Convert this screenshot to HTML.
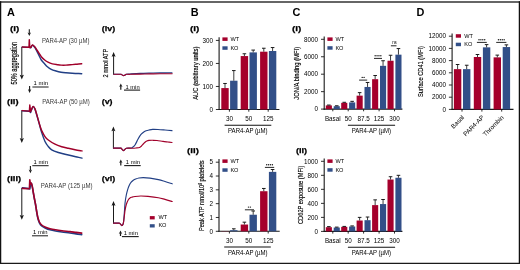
<!DOCTYPE html>
<html><head><meta charset="utf-8"><style>
html,body{margin:0;padding:0;background:#fff;width:520px;height:270px;overflow:hidden}
svg{display:block;font-family:"Liberation Sans", sans-serif;will-change:transform}
</style></head><body>
<svg width="520" height="270" viewBox="0 0 520 270">
<rect x="0" y="0" width="520" height="270" fill="#fff"/>
<line x1="0" y1="2.0" x2="520" y2="2.0" stroke="#333" stroke-width="1.4"/>
<line x1="0.6" y1="1.3" x2="0.6" y2="264" stroke="#111" stroke-width="1.3"/>
<line x1="519.4" y1="1.3" x2="519.4" y2="264" stroke="#111" stroke-width="1.3"/>
<line x1="0" y1="263.3" x2="520" y2="263.3" stroke="#1a1a1a" stroke-width="1.3"/>
<text x="6.90" y="16.20" font-size="10.9" text-anchor="start" font-weight="bold" fill="#000" >A</text>
<text x="190.70" y="16.20" font-size="10.9" text-anchor="start" font-weight="bold" fill="#000" >B</text>
<text x="292.40" y="16.20" font-size="10.9" text-anchor="start" font-weight="bold" fill="#000" >C</text>
<text x="416.40" y="16.20" font-size="10.9" text-anchor="start" font-weight="bold" fill="#000" >D</text>
<text x="9.90" y="31.20" font-size="8.0" text-anchor="start" font-weight="bold" textLength="9.3" lengthAdjust="spacingAndGlyphs" fill="#000" stroke="#000" stroke-width="0.25">(i)</text>
<text x="7.10" y="104.40" font-size="8.0" text-anchor="start" font-weight="bold" textLength="11.4" lengthAdjust="spacingAndGlyphs" fill="#000" stroke="#000" stroke-width="0.25">(ii)</text>
<text x="7.10" y="181.30" font-size="8.0" text-anchor="start" font-weight="bold" textLength="14.0" lengthAdjust="spacingAndGlyphs" fill="#000" stroke="#000" stroke-width="0.25">(iii)</text>
<text x="101.70" y="31.10" font-size="8.0" text-anchor="start" font-weight="bold" textLength="13.5" lengthAdjust="spacingAndGlyphs" fill="#000" stroke="#000" stroke-width="0.25">(iv)</text>
<text x="101.70" y="104.00" font-size="8.0" text-anchor="start" font-weight="bold" textLength="10.9" lengthAdjust="spacingAndGlyphs" fill="#000" stroke="#000" stroke-width="0.25">(v)</text>
<text x="101.70" y="181.10" font-size="8.0" text-anchor="start" font-weight="bold" textLength="13.5" lengthAdjust="spacingAndGlyphs" fill="#000" stroke="#000" stroke-width="0.25">(vi)</text>
<text x="41.90" y="42.50" font-size="6.4" text-anchor="start" textLength="47.5" lengthAdjust="spacingAndGlyphs" fill="#3a3a3a" >PAR4-AP (30 µM)</text>
<text x="42.20" y="104.20" font-size="6.4" text-anchor="start" textLength="47.6" lengthAdjust="spacingAndGlyphs" fill="#3a3a3a" >PAR4-AP (50 µM)</text>
<text x="40.80" y="188.00" font-size="6.4" text-anchor="start" textLength="51.7" lengthAdjust="spacingAndGlyphs" fill="#3a3a3a" >PAR4-AP (125 µM)</text>
<line x1="21.80" y1="47.00" x2="21.80" y2="75.60" stroke="#1a1a1a" stroke-width="1.0"/>
<path d="M19.70,74.80 L21.80,75.60 L23.90,74.80 L21.80,79.60 Z" fill="#1a1a1a"/>
<line x1="21.80" y1="110.40" x2="21.80" y2="138.90" stroke="#1a1a1a" stroke-width="1.0"/>
<path d="M19.70,138.10 L21.80,138.90 L23.90,138.10 L21.80,142.90 Z" fill="#1a1a1a"/>
<line x1="21.80" y1="188.00" x2="21.80" y2="215.80" stroke="#1a1a1a" stroke-width="1.0"/>
<path d="M19.70,215.00 L21.80,215.80 L23.90,215.00 L21.80,219.80 Z" fill="#1a1a1a"/>
<text x="16.60" y="84.50" font-size="8.6" text-anchor="start" textLength="42.6" lengthAdjust="spacingAndGlyphs" fill="#000" transform="rotate(-90 16.60 84.50)" stroke="#000" stroke-width="0.18">50% aggregation</text>
<line x1="29.30" y1="29.20" x2="29.30" y2="33.30" stroke="#1a1a1a" stroke-width="1.1"/>
<path d="M27.60,32.50 L29.30,33.30 L31.00,32.50 L29.30,36.10 Z" fill="#1a1a1a"/>
<line x1="29.60" y1="86.10" x2="29.60" y2="90.10" stroke="#1a1a1a" stroke-width="1.1"/>
<path d="M27.90,89.30 L29.60,90.10 L31.30,89.30 L29.60,92.90 Z" fill="#1a1a1a"/>
<line x1="30.40" y1="166.10" x2="30.40" y2="170.40" stroke="#1a1a1a" stroke-width="1.1"/>
<path d="M28.70,169.60 L30.40,170.40 L32.10,169.60 L30.40,173.20 Z" fill="#1a1a1a"/>
<line x1="32.40" y1="87.00" x2="48.60" y2="87.00" stroke="#1a1a1a" stroke-width="1.0"/>
<text x="40.80" y="85.30" font-size="5.8" text-anchor="middle" textLength="14.4" lengthAdjust="spacingAndGlyphs" >1 min</text>
<line x1="32.30" y1="165.70" x2="48.60" y2="165.70" stroke="#1a1a1a" stroke-width="1.0"/>
<text x="40.75" y="164.00" font-size="5.8" text-anchor="middle" textLength="14.4" lengthAdjust="spacingAndGlyphs" >1 min</text>
<line x1="32.00" y1="235.80" x2="48.00" y2="235.80" stroke="#1a1a1a" stroke-width="1.0"/>
<text x="40.30" y="234.10" font-size="5.8" text-anchor="middle" textLength="14.4" lengthAdjust="spacingAndGlyphs" >1 min</text>
<path d="M22.30,47.10 L29.00,47.40 L29.80,47.60 L30.80,47.70 C31.07,47.28 31.75,45.28 32.40,45.20 C33.05,45.12 33.95,46.22 34.70,47.20 C35.45,48.18 36.17,49.70 36.90,51.10 C37.63,52.50 38.37,54.12 39.10,55.60 C39.83,57.08 40.37,58.62 41.30,60.00 C42.23,61.38 43.68,62.78 44.70,63.90 C45.72,65.02 46.30,65.78 47.40,66.70 C48.50,67.62 49.87,68.68 51.30,69.40 C52.73,70.12 54.37,70.53 56.00,71.00 C57.63,71.47 59.43,71.90 61.10,72.20 C62.77,72.50 64.15,72.62 66.00,72.80 C67.85,72.98 70.37,73.18 72.20,73.30 C74.03,73.42 75.42,73.43 77.00,73.50 C78.58,73.57 80.92,73.67 81.70,73.70" fill="none" stroke="#213f85" stroke-width="1.45" stroke-linejoin="round" stroke-linecap="round"/>
<path d="M22.30,47.00 L28.30,47.20 L29.00,47.30 L29.30,39.80 L29.80,47.50 L30.80,47.60 C31.07,47.17 31.75,45.15 32.40,45.00 C33.05,44.85 33.95,45.87 34.70,46.70 C35.45,47.53 36.17,48.90 36.90,50.00 C37.63,51.10 38.37,52.18 39.10,53.30 C39.83,54.42 40.37,55.58 41.30,56.70 C42.23,57.82 43.58,59.08 44.70,60.00 C45.82,60.92 46.72,61.55 48.00,62.20 C49.28,62.85 50.83,63.48 52.40,63.90 C53.97,64.32 55.95,64.50 57.40,64.70 C58.85,64.90 59.67,65.03 61.10,65.10 C62.53,65.17 64.15,65.18 66.00,65.10 C67.85,65.02 70.37,64.75 72.20,64.60 C74.03,64.45 75.42,64.33 77.00,64.20 C78.58,64.07 80.92,63.87 81.70,63.80" fill="none" stroke="#a0002a" stroke-width="1.45" stroke-linejoin="round" stroke-linecap="round"/>
<path d="M22.20,110.70 L28.90,111.20 L29.80,111.50 L30.60,112.50 C30.75,112.08 31.08,110.98 31.50,110.00 C31.92,109.02 32.52,106.73 33.10,106.60 C33.68,106.47 34.40,107.83 35.00,109.20 C35.60,110.57 36.15,112.93 36.70,114.80 C37.25,116.67 37.75,118.43 38.30,120.40 C38.85,122.37 39.43,124.58 40.00,126.60 C40.57,128.62 40.87,130.02 41.70,132.50 C42.53,134.98 43.90,139.17 45.00,141.50 C46.10,143.83 47.18,145.12 48.30,146.50 C49.42,147.88 50.03,148.80 51.70,149.80 C53.37,150.80 56.08,151.77 58.30,152.50 C60.52,153.23 62.77,153.65 65.00,154.20 C67.23,154.75 69.70,155.33 71.70,155.80 C73.70,156.27 75.28,156.62 77.00,157.00 C78.72,157.38 81.17,157.92 82.00,158.10" fill="none" stroke="#213f85" stroke-width="1.45" stroke-linejoin="round" stroke-linecap="round"/>
<path d="M22.20,110.60 L28.90,111.10 L29.40,111.20 L29.80,105.00 L30.60,111.70 C30.75,111.33 31.08,110.38 31.50,109.50 C31.92,108.62 32.52,106.50 33.10,106.40 C33.68,106.30 34.40,107.57 35.00,108.90 C35.60,110.23 36.15,112.55 36.70,114.40 C37.25,116.25 37.75,118.10 38.30,120.00 C38.85,121.90 39.43,124.03 40.00,125.80 C40.57,127.57 40.87,128.80 41.70,130.60 C42.53,132.40 43.90,135.03 45.00,136.60 C46.10,138.17 46.63,138.73 48.30,140.00 C49.97,141.27 52.77,143.08 55.00,144.20 C57.23,145.32 59.48,146.02 61.70,146.70 C63.92,147.38 66.08,147.80 68.30,148.30 C70.52,148.80 72.72,149.27 75.00,149.70 C77.28,150.13 80.83,150.70 82.00,150.90" fill="none" stroke="#a0002a" stroke-width="1.45" stroke-linejoin="round" stroke-linecap="round"/>
<path d="M22.40,187.80 L28.90,188.60 L29.80,188.90 L30.60,184.80 C30.73,184.57 31.10,182.98 31.40,183.40 C31.70,183.82 32.08,185.75 32.40,187.30 C32.72,188.85 32.97,190.78 33.30,192.70 C33.63,194.62 34.02,196.75 34.40,198.80 C34.78,200.85 35.22,202.80 35.60,205.00 C35.98,207.20 36.33,209.83 36.70,212.00 C37.07,214.17 37.35,216.20 37.80,218.00 C38.25,219.80 38.75,221.47 39.40,222.80 C40.05,224.13 40.67,225.10 41.70,226.00 C42.73,226.90 44.22,227.57 45.60,228.20 C46.98,228.83 48.33,229.33 50.00,229.80 C51.67,230.27 53.60,230.63 55.60,231.00 C57.60,231.37 59.60,231.67 62.00,232.00 C64.40,232.33 67.67,232.68 70.00,233.00 C72.33,233.32 74.05,233.63 76.00,233.90 C77.95,234.17 80.75,234.48 81.70,234.60" fill="none" stroke="#213f85" stroke-width="1.6" stroke-linejoin="round" stroke-linecap="round"/>
<path d="M22.40,188.40 L28.90,188.80 L29.40,188.80 L29.80,179.90 L30.40,184.30 C30.57,184.12 31.07,182.73 31.40,183.20 C31.73,183.67 32.08,185.57 32.40,187.10 C32.72,188.63 32.97,190.50 33.30,192.40 C33.63,194.30 34.02,196.45 34.40,198.50 C34.78,200.55 35.22,202.53 35.60,204.70 C35.98,206.87 36.33,209.40 36.70,211.50 C37.07,213.60 37.35,215.55 37.80,217.30 C38.25,219.05 38.75,220.72 39.40,222.00 C40.05,223.28 40.67,224.13 41.70,225.00 C42.73,225.87 44.22,226.58 45.60,227.20 C46.98,227.82 48.33,228.27 50.00,228.70 C51.67,229.13 53.60,229.47 55.60,229.80 C57.60,230.13 59.60,230.40 62.00,230.70 C64.40,231.00 67.67,231.32 70.00,231.60 C72.33,231.88 74.05,232.15 76.00,232.40 C77.95,232.65 80.75,232.98 81.70,233.10" fill="none" stroke="#a0002a" stroke-width="1.6" stroke-linejoin="round" stroke-linecap="round"/>
<line x1="113.60" y1="74.60" x2="113.60" y2="56.00" stroke="#1a1a1a" stroke-width="1.0"/>
<path d="M111.60,56.80 L113.60,56.00 L115.60,56.80 L113.60,52.00 Z" fill="#1a1a1a"/>
<line x1="113.40" y1="148.50" x2="113.40" y2="130.40" stroke="#1a1a1a" stroke-width="1.0"/>
<path d="M111.40,131.20 L113.40,130.40 L115.40,131.20 L113.40,126.40 Z" fill="#1a1a1a"/>
<line x1="113.50" y1="223.50" x2="113.50" y2="205.00" stroke="#1a1a1a" stroke-width="1.0"/>
<path d="M111.50,205.80 L113.50,205.00 L115.50,205.80 L113.50,201.00 Z" fill="#1a1a1a"/>
<text x="108.00" y="77.60" font-size="8" text-anchor="start" textLength="28.9" lengthAdjust="spacingAndGlyphs" fill="#000" transform="rotate(-90 108.00 77.60)" stroke="#000" stroke-width="0.15">2 nmol ATP</text>
<line x1="120.80" y1="89.80" x2="120.80" y2="86.10" stroke="#1a1a1a" stroke-width="1.2"/>
<path d="M119.10,86.90 L120.80,86.10 L122.50,86.90 L120.80,83.50 Z" fill="#1a1a1a"/>
<line x1="124.00" y1="90.10" x2="140.10" y2="90.10" stroke="#1a1a1a" stroke-width="1.1"/>
<text x="132.55" y="88.50" font-size="5.8" text-anchor="middle" textLength="14.2" lengthAdjust="spacingAndGlyphs" >1 min</text>
<line x1="120.80" y1="165.60" x2="120.80" y2="162.10" stroke="#1a1a1a" stroke-width="1.2"/>
<path d="M119.10,162.90 L120.80,162.10 L122.50,162.90 L120.80,159.50 Z" fill="#1a1a1a"/>
<line x1="124.20" y1="165.60" x2="140.70" y2="165.60" stroke="#1a1a1a" stroke-width="1.1"/>
<text x="132.95" y="164.00" font-size="5.8" text-anchor="middle" textLength="14.2" lengthAdjust="spacingAndGlyphs" >1 min</text>
<line x1="120.50" y1="236.00" x2="120.50" y2="233.10" stroke="#1a1a1a" stroke-width="1.2"/>
<path d="M118.80,233.90 L120.50,233.10 L122.20,233.90 L120.50,230.50 Z" fill="#1a1a1a"/>
<line x1="121.90" y1="236.60" x2="138.70" y2="236.60" stroke="#1a1a1a" stroke-width="1.1"/>
<text x="130.80" y="235.00" font-size="5.8" text-anchor="middle" textLength="14.2" lengthAdjust="spacingAndGlyphs" >1 min</text>
<path d="M113.90,74.20 L121.00,74.20 C121.25,74.37 122.05,74.95 122.50,75.20 C122.95,75.45 123.28,75.72 123.70,75.70 C124.12,75.68 124.58,75.33 125.00,75.10 C125.42,74.87 125.37,74.48 126.20,74.30 C127.03,74.12 127.70,74.15 130.00,74.00 C132.30,73.85 136.67,73.55 140.00,73.40 C143.33,73.25 146.67,73.18 150.00,73.10 C153.33,73.02 156.33,72.95 160.00,72.90 C163.67,72.85 170.00,72.82 172.00,72.80" fill="none" stroke="#213f85" stroke-width="1.15" stroke-linejoin="round" stroke-linecap="round"/>
<path d="M113.90,74.20 L121.00,74.20 C121.25,74.37 122.05,74.95 122.50,75.20 C122.95,75.45 123.28,75.72 123.70,75.70 C124.12,75.68 124.58,75.33 125.00,75.10 C125.42,74.87 125.37,74.43 126.20,74.30 C127.03,74.17 127.70,74.33 130.00,74.30 C132.30,74.27 136.67,74.17 140.00,74.10 C143.33,74.03 146.67,73.95 150.00,73.90 C153.33,73.85 156.33,73.83 160.00,73.80 C163.67,73.77 170.00,73.72 172.00,73.70" fill="none" stroke="#a0002a" stroke-width="1.15" stroke-linejoin="round" stroke-linecap="round"/>
<path d="M113.50,148.10 L121.10,148.10 C121.30,148.35 121.93,149.18 122.30,149.60 C122.67,150.02 122.92,150.57 123.30,150.60 C123.68,150.63 124.10,150.20 124.60,149.80 C125.10,149.40 125.18,148.50 126.30,148.20 C127.42,147.90 130.15,148.23 131.30,148.00 C132.45,147.77 132.58,147.30 133.20,146.80 C133.82,146.30 134.23,146.20 135.00,145.00 C135.77,143.80 137.03,141.03 137.80,139.60 C138.57,138.17 138.98,137.35 139.60,136.40 C140.22,135.45 140.80,134.63 141.50,133.90 C142.20,133.17 143.03,132.52 143.80,132.00 C144.57,131.48 145.23,131.13 146.10,130.80 C146.97,130.47 147.92,130.23 149.00,130.00 C150.08,129.77 151.10,129.48 152.60,129.40 C154.10,129.32 155.93,129.40 158.00,129.50 C160.07,129.60 162.67,129.82 165.00,130.00 C167.33,130.18 170.83,130.50 172.00,130.60" fill="none" stroke="#213f85" stroke-width="1.15" stroke-linejoin="round" stroke-linecap="round"/>
<path d="M113.50,148.10 L121.10,148.10 C121.30,148.35 121.93,149.18 122.30,149.60 C122.67,150.02 122.92,150.57 123.30,150.60 C123.68,150.63 124.10,150.20 124.60,149.80 C125.10,149.40 125.07,148.47 126.30,148.20 C127.53,147.93 130.38,148.23 132.00,148.20 C133.62,148.17 134.73,148.12 136.00,148.00 C137.27,147.88 138.68,147.83 139.60,147.50 C140.52,147.17 140.88,146.58 141.50,146.00 C142.12,145.42 142.72,144.63 143.30,144.00 C143.88,143.37 144.42,142.70 145.00,142.20 C145.58,141.70 146.13,141.30 146.80,141.00 C147.47,140.70 147.97,140.52 149.00,140.40 C150.03,140.28 151.67,140.28 153.00,140.30 C154.33,140.32 155.33,140.32 157.00,140.50 C158.67,140.68 161.17,141.15 163.00,141.40 C164.83,141.65 166.50,141.82 168.00,142.00 C169.50,142.18 171.33,142.42 172.00,142.50" fill="none" stroke="#a0002a" stroke-width="1.15" stroke-linejoin="round" stroke-linecap="round"/>
<path d="M113.60,223.10 L119.30,223.10 C119.55,223.33 120.37,224.08 120.80,224.50 C121.23,224.92 121.55,225.60 121.90,225.60 C122.25,225.60 122.62,225.18 122.90,224.50 C123.18,223.82 123.35,223.58 123.60,221.50 C123.85,219.42 124.15,215.17 124.40,212.00 C124.65,208.83 124.78,205.33 125.10,202.50 C125.42,199.67 125.88,197.12 126.30,195.00 C126.72,192.88 127.10,191.42 127.60,189.80 C128.10,188.18 128.70,186.57 129.30,185.30 C129.90,184.03 130.53,183.03 131.20,182.20 C131.87,181.37 132.55,180.83 133.30,180.30 C134.05,179.77 134.75,179.38 135.70,179.00 C136.65,178.62 137.73,178.23 139.00,178.00 C140.27,177.77 141.47,177.58 143.30,177.60 C145.13,177.62 147.48,177.77 150.00,178.10 C152.52,178.43 155.90,179.03 158.40,179.60 C160.90,180.17 162.70,180.80 165.00,181.50 C167.30,182.20 171.00,183.42 172.20,183.80" fill="none" stroke="#213f85" stroke-width="1.15" stroke-linejoin="round" stroke-linecap="round"/>
<path d="M113.60,223.10 L119.30,223.10 C119.55,223.33 120.37,224.08 120.80,224.50 C121.23,224.92 121.55,225.60 121.90,225.60 C122.25,225.60 122.62,225.13 122.90,224.50 C123.18,223.87 123.35,223.30 123.60,221.80 C123.85,220.30 124.15,217.47 124.40,215.50 C124.65,213.53 124.78,211.83 125.10,210.00 C125.42,208.17 125.78,206.17 126.30,204.50 C126.82,202.83 127.58,201.08 128.20,200.00 C128.82,198.92 129.38,198.47 130.00,198.00 C130.62,197.53 131.07,197.45 131.90,197.20 C132.73,196.95 133.53,196.70 135.00,196.50 C136.47,196.30 138.53,196.02 140.70,196.00 C142.87,195.98 145.05,196.12 148.00,196.40 C150.95,196.68 155.57,197.20 158.40,197.70 C161.23,198.20 162.70,198.77 165.00,199.40 C167.30,200.03 171.00,201.15 172.20,201.50" fill="none" stroke="#a0002a" stroke-width="1.15" stroke-linejoin="round" stroke-linecap="round"/>
<rect x="149.80" y="216.10" width="4.90" height="3.30" fill="#a5002c"/>
<rect x="149.80" y="224.20" width="4.90" height="3.30" fill="#324f88"/>
<text x="158.40" y="219.35" font-size="5.6" text-anchor="start" >WT</text>
<text x="158.40" y="227.45" font-size="5.6" text-anchor="start" >KO</text>
<text x="190.00" y="31.10" font-size="8.0" text-anchor="start" font-weight="bold" textLength="9.4" lengthAdjust="spacingAndGlyphs" fill="#000" stroke="#000" stroke-width="0.25">(i)</text>
<line x1="219.10" y1="110.05" x2="219.10" y2="37.30" stroke="#1a1a1a" stroke-width="1.1"/>
<line x1="218.55" y1="109.50" x2="279.40" y2="109.50" stroke="#1a1a1a" stroke-width="1.1"/>
<line x1="215.90" y1="109.50" x2="219.10" y2="109.50" stroke="#1a1a1a" stroke-width="0.9"/>
<text x="213.00" y="111.75" font-size="6.3" text-anchor="end" >0</text>
<line x1="215.90" y1="86.47" x2="219.10" y2="86.47" stroke="#1a1a1a" stroke-width="0.9"/>
<text x="213.00" y="88.72" font-size="6.3" text-anchor="end" >100</text>
<line x1="215.90" y1="63.44" x2="219.10" y2="63.44" stroke="#1a1a1a" stroke-width="0.9"/>
<text x="213.00" y="65.69" font-size="6.3" text-anchor="end" >200</text>
<line x1="215.90" y1="40.41" x2="219.10" y2="40.41" stroke="#1a1a1a" stroke-width="0.9"/>
<text x="213.00" y="42.66" font-size="6.3" text-anchor="end" >300</text>
<line x1="229.40" y1="109.50" x2="229.40" y2="111.70" stroke="#1a1a1a" stroke-width="0.9"/>
<rect x="221.30" y="88.08" width="7.40" height="21.42" fill="#a5002c"/>
<line x1="225.00" y1="88.08" x2="225.00" y2="83.48" stroke="#1a1a1a" stroke-width="0.85"/>
<line x1="223.20" y1="83.48" x2="226.80" y2="83.48" stroke="#1a1a1a" stroke-width="1.0"/>
<rect x="230.10" y="80.71" width="7.40" height="28.79" fill="#324f88"/>
<line x1="233.80" y1="80.71" x2="233.80" y2="70.58" stroke="#1a1a1a" stroke-width="0.85"/>
<line x1="232.00" y1="70.58" x2="235.60" y2="70.58" stroke="#1a1a1a" stroke-width="1.0"/>
<line x1="248.80" y1="109.50" x2="248.80" y2="111.70" stroke="#1a1a1a" stroke-width="0.9"/>
<rect x="240.70" y="56.07" width="7.40" height="53.43" fill="#a5002c"/>
<line x1="244.40" y1="56.07" x2="244.40" y2="53.77" stroke="#1a1a1a" stroke-width="0.85"/>
<line x1="242.60" y1="53.77" x2="246.20" y2="53.77" stroke="#1a1a1a" stroke-width="1.0"/>
<rect x="249.50" y="52.39" width="7.40" height="57.11" fill="#324f88"/>
<line x1="253.20" y1="52.39" x2="253.20" y2="50.08" stroke="#1a1a1a" stroke-width="0.85"/>
<line x1="251.40" y1="50.08" x2="255.00" y2="50.08" stroke="#1a1a1a" stroke-width="1.0"/>
<line x1="268.20" y1="109.50" x2="268.20" y2="111.70" stroke="#1a1a1a" stroke-width="0.9"/>
<rect x="260.10" y="51.69" width="7.40" height="57.81" fill="#a5002c"/>
<line x1="263.80" y1="51.69" x2="263.80" y2="48.24" stroke="#1a1a1a" stroke-width="0.85"/>
<line x1="262.00" y1="48.24" x2="265.60" y2="48.24" stroke="#1a1a1a" stroke-width="1.0"/>
<rect x="268.90" y="51.00" width="7.40" height="58.50" fill="#324f88"/>
<line x1="272.60" y1="51.00" x2="272.60" y2="47.55" stroke="#1a1a1a" stroke-width="0.85"/>
<line x1="270.80" y1="47.55" x2="274.40" y2="47.55" stroke="#1a1a1a" stroke-width="1.0"/>
<text x="229.40" y="120.80" font-size="6.3" text-anchor="middle" >30</text>
<text x="248.80" y="120.80" font-size="6.3" text-anchor="middle" >50</text>
<text x="268.20" y="120.80" font-size="6.3" text-anchor="middle" >125</text>
<line x1="224.60" y1="125.20" x2="271.30" y2="125.20" stroke="#111" stroke-width="1.05"/>
<text x="247.80" y="133.40" font-size="6.5" text-anchor="middle" textLength="39.6" lengthAdjust="spacingAndGlyphs" >PAR4-AP (µM)</text>
<rect x="222.40" y="37.40" width="5.20" height="3.50" fill="#a5002c"/>
<rect x="222.40" y="46.30" width="5.20" height="3.50" fill="#324f88"/>
<text x="230.40" y="40.85" font-size="5.6" text-anchor="start" >WT</text>
<text x="230.40" y="49.75" font-size="5.6" text-anchor="start" >KO</text>
<text x="197.70" y="99.80" font-size="8" text-anchor="start" textLength="53.3" lengthAdjust="spacingAndGlyphs" fill="#000" transform="rotate(-90 197.70 99.80)" stroke="#000" stroke-width="0.15">AUC (arbitrary units)</text>
<text x="187.10" y="153.10" font-size="8.0" text-anchor="start" font-weight="bold" textLength="11.8" lengthAdjust="spacingAndGlyphs" fill="#000" stroke="#000" stroke-width="0.25">(ii)</text>
<line x1="219.00" y1="231.85" x2="219.00" y2="159.10" stroke="#1a1a1a" stroke-width="1.1"/>
<line x1="218.45" y1="231.30" x2="279.70" y2="231.30" stroke="#1a1a1a" stroke-width="1.1"/>
<line x1="215.80" y1="231.30" x2="219.00" y2="231.30" stroke="#1a1a1a" stroke-width="0.9"/>
<text x="212.90" y="233.55" font-size="6.3" text-anchor="end" >0</text>
<line x1="215.80" y1="217.48" x2="219.00" y2="217.48" stroke="#1a1a1a" stroke-width="0.9"/>
<text x="212.90" y="219.73" font-size="6.3" text-anchor="end" >1</text>
<line x1="215.80" y1="203.66" x2="219.00" y2="203.66" stroke="#1a1a1a" stroke-width="0.9"/>
<text x="212.90" y="205.91" font-size="6.3" text-anchor="end" >2</text>
<line x1="215.80" y1="189.84" x2="219.00" y2="189.84" stroke="#1a1a1a" stroke-width="0.9"/>
<text x="212.90" y="192.09" font-size="6.3" text-anchor="end" >3</text>
<line x1="215.80" y1="176.02" x2="219.00" y2="176.02" stroke="#1a1a1a" stroke-width="0.9"/>
<text x="212.90" y="178.27" font-size="6.3" text-anchor="end" >4</text>
<line x1="215.80" y1="162.20" x2="219.00" y2="162.20" stroke="#1a1a1a" stroke-width="0.9"/>
<text x="212.90" y="164.45" font-size="6.3" text-anchor="end" >5</text>
<line x1="229.40" y1="231.30" x2="229.40" y2="233.50" stroke="#1a1a1a" stroke-width="0.9"/>
<rect x="221.30" y="231.09" width="7.40" height="0.21" fill="#a5002c"/>
<rect x="230.10" y="230.19" width="7.40" height="1.11" fill="#324f88"/>
<line x1="233.80" y1="230.19" x2="233.80" y2="228.81" stroke="#1a1a1a" stroke-width="0.85"/>
<line x1="232.00" y1="228.81" x2="235.60" y2="228.81" stroke="#1a1a1a" stroke-width="1.0"/>
<line x1="248.80" y1="231.30" x2="248.80" y2="233.50" stroke="#1a1a1a" stroke-width="0.9"/>
<rect x="240.70" y="224.53" width="7.40" height="6.77" fill="#a5002c"/>
<line x1="244.40" y1="224.53" x2="244.40" y2="222.18" stroke="#1a1a1a" stroke-width="0.85"/>
<line x1="242.60" y1="222.18" x2="246.20" y2="222.18" stroke="#1a1a1a" stroke-width="1.0"/>
<rect x="249.50" y="214.72" width="7.40" height="16.58" fill="#324f88"/>
<line x1="253.20" y1="214.72" x2="253.20" y2="210.98" stroke="#1a1a1a" stroke-width="0.85"/>
<line x1="251.40" y1="210.98" x2="255.00" y2="210.98" stroke="#1a1a1a" stroke-width="1.0"/>
<line x1="268.20" y1="231.30" x2="268.20" y2="233.50" stroke="#1a1a1a" stroke-width="0.9"/>
<rect x="260.10" y="191.22" width="7.40" height="40.08" fill="#a5002c"/>
<line x1="263.80" y1="191.22" x2="263.80" y2="188.46" stroke="#1a1a1a" stroke-width="0.85"/>
<line x1="262.00" y1="188.46" x2="265.60" y2="188.46" stroke="#1a1a1a" stroke-width="1.0"/>
<rect x="268.90" y="171.87" width="7.40" height="59.43" fill="#324f88"/>
<line x1="272.60" y1="171.87" x2="272.60" y2="169.52" stroke="#1a1a1a" stroke-width="0.85"/>
<line x1="270.80" y1="169.52" x2="274.40" y2="169.52" stroke="#1a1a1a" stroke-width="1.0"/>
<text x="229.40" y="242.80" font-size="6.3" text-anchor="middle" >30</text>
<text x="248.80" y="242.80" font-size="6.3" text-anchor="middle" >50</text>
<text x="268.20" y="242.80" font-size="6.3" text-anchor="middle" >125</text>
<line x1="224.20" y1="247.00" x2="270.80" y2="247.00" stroke="#111" stroke-width="1.05"/>
<text x="247.80" y="255.30" font-size="6.5" text-anchor="middle" textLength="39.6" lengthAdjust="spacingAndGlyphs" >PAR4-AP (µM)</text>
<line x1="244.90" y1="209.80" x2="254.00" y2="209.80" stroke="#1a1a1a" stroke-width="0.95"/>
<circle cx="248.50" cy="207.10" r="0.72" fill="#1a1a1a"/>
<circle cx="250.40" cy="207.10" r="0.72" fill="#1a1a1a"/>
<line x1="264.90" y1="167.40" x2="274.20" y2="167.40" stroke="#1a1a1a" stroke-width="0.95"/>
<circle cx="266.70" cy="164.70" r="0.72" fill="#1a1a1a"/>
<circle cx="268.60" cy="164.70" r="0.72" fill="#1a1a1a"/>
<circle cx="270.50" cy="164.70" r="0.72" fill="#1a1a1a"/>
<circle cx="272.40" cy="164.70" r="0.72" fill="#1a1a1a"/>
<rect x="222.40" y="159.40" width="5.20" height="3.50" fill="#a5002c"/>
<rect x="222.40" y="168.30" width="5.20" height="3.50" fill="#324f88"/>
<text x="230.40" y="162.85" font-size="5.6" text-anchor="start" >WT</text>
<text x="230.40" y="171.75" font-size="5.6" text-anchor="start" >KO</text>
<text x="204.0" y="231.1" font-size="8" transform="rotate(-90 204.0 231.1)" textLength="70.8" lengthAdjust="spacingAndGlyphs" fill="#000" stroke="#000" stroke-width="0.15">Peak ATP nmol/10<tspan dy="-2.2" font-size="4.5">8</tspan><tspan dy="2.2"> platelets</tspan></text>
<text x="292.00" y="31.10" font-size="8.0" text-anchor="start" font-weight="bold" textLength="9.4" lengthAdjust="spacingAndGlyphs" fill="#000" stroke="#000" stroke-width="0.25">(i)</text>
<line x1="324.20" y1="109.65" x2="324.20" y2="36.40" stroke="#1a1a1a" stroke-width="1.1"/>
<line x1="323.65" y1="109.10" x2="402.40" y2="109.10" stroke="#1a1a1a" stroke-width="1.1"/>
<line x1="321.00" y1="109.10" x2="324.20" y2="109.10" stroke="#1a1a1a" stroke-width="0.9"/>
<text x="318.10" y="111.35" font-size="6.3" text-anchor="end" >0</text>
<line x1="321.00" y1="91.65" x2="324.20" y2="91.65" stroke="#1a1a1a" stroke-width="0.9"/>
<text x="318.10" y="93.90" font-size="6.3" text-anchor="end" >2000</text>
<line x1="321.00" y1="74.20" x2="324.20" y2="74.20" stroke="#1a1a1a" stroke-width="0.9"/>
<text x="318.10" y="76.45" font-size="6.3" text-anchor="end" >4000</text>
<line x1="321.00" y1="56.75" x2="324.20" y2="56.75" stroke="#1a1a1a" stroke-width="0.9"/>
<text x="318.10" y="59.00" font-size="6.3" text-anchor="end" >6000</text>
<line x1="321.00" y1="39.30" x2="324.20" y2="39.30" stroke="#1a1a1a" stroke-width="0.9"/>
<text x="318.10" y="41.55" font-size="6.3" text-anchor="end" >8000</text>
<line x1="332.80" y1="109.10" x2="332.80" y2="111.30" stroke="#1a1a1a" stroke-width="0.9"/>
<rect x="325.80" y="105.41" width="6.10" height="3.69" fill="#a5002c"/>
<line x1="328.85" y1="105.41" x2="328.85" y2="105.06" stroke="#1a1a1a" stroke-width="0.85"/>
<line x1="327.05" y1="105.06" x2="330.65" y2="105.06" stroke="#1a1a1a" stroke-width="1.0"/>
<rect x="333.70" y="106.21" width="6.10" height="2.89" fill="#324f88"/>
<line x1="336.75" y1="106.21" x2="336.75" y2="105.78" stroke="#1a1a1a" stroke-width="0.85"/>
<line x1="334.95" y1="105.78" x2="338.55" y2="105.78" stroke="#1a1a1a" stroke-width="1.0"/>
<line x1="348.20" y1="109.10" x2="348.20" y2="111.30" stroke="#1a1a1a" stroke-width="0.9"/>
<rect x="341.20" y="102.82" width="6.10" height="6.28" fill="#a5002c"/>
<line x1="344.25" y1="102.82" x2="344.25" y2="102.29" stroke="#1a1a1a" stroke-width="0.85"/>
<line x1="342.45" y1="102.29" x2="346.05" y2="102.29" stroke="#1a1a1a" stroke-width="1.0"/>
<rect x="349.10" y="102.42" width="6.10" height="6.68" fill="#324f88"/>
<line x1="352.15" y1="102.42" x2="352.15" y2="101.33" stroke="#1a1a1a" stroke-width="0.85"/>
<line x1="350.35" y1="101.33" x2="353.95" y2="101.33" stroke="#1a1a1a" stroke-width="1.0"/>
<line x1="363.60" y1="109.10" x2="363.60" y2="111.30" stroke="#1a1a1a" stroke-width="0.9"/>
<rect x="356.60" y="95.64" width="6.10" height="13.46" fill="#a5002c"/>
<line x1="359.65" y1="95.64" x2="359.65" y2="92.64" stroke="#1a1a1a" stroke-width="0.85"/>
<line x1="357.85" y1="92.64" x2="361.45" y2="92.64" stroke="#1a1a1a" stroke-width="1.0"/>
<rect x="364.50" y="86.96" width="6.10" height="22.14" fill="#324f88"/>
<line x1="367.55" y1="86.96" x2="367.55" y2="82.48" stroke="#1a1a1a" stroke-width="0.85"/>
<line x1="365.75" y1="82.48" x2="369.35" y2="82.48" stroke="#1a1a1a" stroke-width="1.0"/>
<line x1="379.10" y1="109.10" x2="379.10" y2="111.30" stroke="#1a1a1a" stroke-width="0.9"/>
<rect x="372.10" y="79.18" width="6.10" height="29.92" fill="#a5002c"/>
<line x1="375.15" y1="79.18" x2="375.15" y2="75.50" stroke="#1a1a1a" stroke-width="0.85"/>
<line x1="373.35" y1="75.50" x2="376.95" y2="75.50" stroke="#1a1a1a" stroke-width="1.0"/>
<rect x="380.00" y="65.82" width="6.10" height="43.28" fill="#324f88"/>
<line x1="383.05" y1="65.82" x2="383.05" y2="60.74" stroke="#1a1a1a" stroke-width="0.85"/>
<line x1="381.25" y1="60.74" x2="384.85" y2="60.74" stroke="#1a1a1a" stroke-width="1.0"/>
<line x1="394.50" y1="109.10" x2="394.50" y2="111.30" stroke="#1a1a1a" stroke-width="0.9"/>
<rect x="387.50" y="60.74" width="6.10" height="48.36" fill="#a5002c"/>
<line x1="390.55" y1="60.74" x2="390.55" y2="55.26" stroke="#1a1a1a" stroke-width="0.85"/>
<line x1="388.75" y1="55.26" x2="392.35" y2="55.26" stroke="#1a1a1a" stroke-width="1.0"/>
<rect x="395.40" y="54.66" width="6.10" height="54.44" fill="#324f88"/>
<line x1="398.45" y1="54.66" x2="398.45" y2="48.57" stroke="#1a1a1a" stroke-width="0.85"/>
<line x1="396.65" y1="48.57" x2="400.25" y2="48.57" stroke="#1a1a1a" stroke-width="1.0"/>
<text x="332.80" y="120.80" font-size="6.3" text-anchor="middle" >Basal</text>
<text x="348.20" y="120.80" font-size="6.3" text-anchor="middle" >50</text>
<text x="363.60" y="120.80" font-size="6.3" text-anchor="middle" >87.5</text>
<text x="379.10" y="120.80" font-size="6.3" text-anchor="middle" >125</text>
<text x="394.50" y="120.80" font-size="6.3" text-anchor="middle" >300</text>
<line x1="347.90" y1="125.20" x2="395.10" y2="125.20" stroke="#111" stroke-width="1.05"/>
<text x="371.30" y="133.40" font-size="6.5" text-anchor="middle" textLength="39.3" lengthAdjust="spacingAndGlyphs" >PAR4-AP (µM)</text>
<line x1="359.10" y1="80.10" x2="367.20" y2="80.10" stroke="#1a1a1a" stroke-width="0.95"/>
<circle cx="362.20" cy="77.40" r="0.72" fill="#1a1a1a"/>
<circle cx="364.10" cy="77.40" r="0.72" fill="#1a1a1a"/>
<line x1="374.00" y1="58.40" x2="382.00" y2="58.40" stroke="#1a1a1a" stroke-width="0.95"/>
<circle cx="375.15" cy="55.70" r="0.72" fill="#1a1a1a"/>
<circle cx="377.05" cy="55.70" r="0.72" fill="#1a1a1a"/>
<circle cx="378.95" cy="55.70" r="0.72" fill="#1a1a1a"/>
<circle cx="380.85" cy="55.70" r="0.72" fill="#1a1a1a"/>
<line x1="390.90" y1="45.80" x2="396.50" y2="45.80" stroke="#1a1a1a" stroke-width="0.95"/>
<text x="394.50" y="44.40" font-size="5.6" text-anchor="middle" textLength="4.6" lengthAdjust="spacingAndGlyphs" >ns</text>
<rect x="327.40" y="37.40" width="5.20" height="3.50" fill="#a5002c"/>
<rect x="327.40" y="46.20" width="5.20" height="3.50" fill="#324f88"/>
<text x="335.40" y="40.85" font-size="5.6" text-anchor="start" >WT</text>
<text x="335.40" y="49.65" font-size="5.6" text-anchor="start" >KO</text>
<text x="298.90" y="99.70" font-size="8" text-anchor="start" textLength="52.8" lengthAdjust="spacingAndGlyphs" fill="#000" transform="rotate(-90 298.90 99.70)" stroke="#000" stroke-width="0.15">JON/A binding (MFI)</text>
<text x="295.90" y="153.00" font-size="8.0" text-anchor="start" font-weight="bold" textLength="11.3" lengthAdjust="spacingAndGlyphs" fill="#000" stroke="#000" stroke-width="0.25">(ii)</text>
<line x1="324.20" y1="231.95" x2="324.20" y2="158.40" stroke="#1a1a1a" stroke-width="1.1"/>
<line x1="323.65" y1="231.40" x2="402.40" y2="231.40" stroke="#1a1a1a" stroke-width="1.1"/>
<line x1="321.00" y1="231.40" x2="324.20" y2="231.40" stroke="#1a1a1a" stroke-width="0.9"/>
<text x="318.10" y="233.65" font-size="6.3" text-anchor="end" >0</text>
<line x1="321.00" y1="217.38" x2="324.20" y2="217.38" stroke="#1a1a1a" stroke-width="0.9"/>
<text x="318.10" y="219.63" font-size="6.3" text-anchor="end" >200</text>
<line x1="321.00" y1="203.36" x2="324.20" y2="203.36" stroke="#1a1a1a" stroke-width="0.9"/>
<text x="318.10" y="205.61" font-size="6.3" text-anchor="end" >400</text>
<line x1="321.00" y1="189.34" x2="324.20" y2="189.34" stroke="#1a1a1a" stroke-width="0.9"/>
<text x="318.10" y="191.59" font-size="6.3" text-anchor="end" >600</text>
<line x1="321.00" y1="175.32" x2="324.20" y2="175.32" stroke="#1a1a1a" stroke-width="0.9"/>
<text x="318.10" y="177.57" font-size="6.3" text-anchor="end" >800</text>
<line x1="321.00" y1="161.30" x2="324.20" y2="161.30" stroke="#1a1a1a" stroke-width="0.9"/>
<text x="318.10" y="163.55" font-size="6.3" text-anchor="end" >1000</text>
<line x1="332.80" y1="231.40" x2="332.80" y2="233.60" stroke="#1a1a1a" stroke-width="0.9"/>
<rect x="325.80" y="227.19" width="6.10" height="4.21" fill="#a5002c"/>
<line x1="328.85" y1="227.19" x2="328.85" y2="226.63" stroke="#1a1a1a" stroke-width="0.85"/>
<line x1="327.05" y1="226.63" x2="330.65" y2="226.63" stroke="#1a1a1a" stroke-width="1.0"/>
<rect x="333.70" y="227.54" width="6.10" height="3.86" fill="#324f88"/>
<line x1="336.75" y1="227.54" x2="336.75" y2="227.12" stroke="#1a1a1a" stroke-width="0.85"/>
<line x1="334.95" y1="227.12" x2="338.55" y2="227.12" stroke="#1a1a1a" stroke-width="1.0"/>
<line x1="348.20" y1="231.40" x2="348.20" y2="233.60" stroke="#1a1a1a" stroke-width="0.9"/>
<rect x="341.20" y="226.84" width="6.10" height="4.56" fill="#a5002c"/>
<line x1="344.25" y1="226.84" x2="344.25" y2="226.42" stroke="#1a1a1a" stroke-width="0.85"/>
<line x1="342.45" y1="226.42" x2="346.05" y2="226.42" stroke="#1a1a1a" stroke-width="1.0"/>
<rect x="349.10" y="226.49" width="6.10" height="4.91" fill="#324f88"/>
<line x1="352.15" y1="226.49" x2="352.15" y2="225.93" stroke="#1a1a1a" stroke-width="0.85"/>
<line x1="350.35" y1="225.93" x2="353.95" y2="225.93" stroke="#1a1a1a" stroke-width="1.0"/>
<line x1="363.60" y1="231.40" x2="363.60" y2="233.60" stroke="#1a1a1a" stroke-width="0.9"/>
<rect x="356.60" y="220.53" width="6.10" height="10.87" fill="#a5002c"/>
<line x1="359.65" y1="220.53" x2="359.65" y2="217.38" stroke="#1a1a1a" stroke-width="0.85"/>
<line x1="357.85" y1="217.38" x2="361.45" y2="217.38" stroke="#1a1a1a" stroke-width="1.0"/>
<rect x="364.50" y="220.18" width="6.10" height="11.22" fill="#324f88"/>
<line x1="367.55" y1="220.18" x2="367.55" y2="217.03" stroke="#1a1a1a" stroke-width="0.85"/>
<line x1="365.75" y1="217.03" x2="369.35" y2="217.03" stroke="#1a1a1a" stroke-width="1.0"/>
<line x1="379.10" y1="231.40" x2="379.10" y2="233.60" stroke="#1a1a1a" stroke-width="0.9"/>
<rect x="372.10" y="205.11" width="6.10" height="26.29" fill="#a5002c"/>
<line x1="375.15" y1="205.11" x2="375.15" y2="199.86" stroke="#1a1a1a" stroke-width="0.85"/>
<line x1="373.35" y1="199.86" x2="376.95" y2="199.86" stroke="#1a1a1a" stroke-width="1.0"/>
<rect x="380.00" y="204.06" width="6.10" height="27.34" fill="#324f88"/>
<line x1="383.05" y1="204.06" x2="383.05" y2="199.50" stroke="#1a1a1a" stroke-width="0.85"/>
<line x1="381.25" y1="199.50" x2="384.85" y2="199.50" stroke="#1a1a1a" stroke-width="1.0"/>
<line x1="394.50" y1="231.40" x2="394.50" y2="233.60" stroke="#1a1a1a" stroke-width="0.9"/>
<rect x="387.50" y="179.53" width="6.10" height="51.87" fill="#a5002c"/>
<line x1="390.55" y1="179.53" x2="390.55" y2="176.72" stroke="#1a1a1a" stroke-width="0.85"/>
<line x1="388.75" y1="176.72" x2="392.35" y2="176.72" stroke="#1a1a1a" stroke-width="1.0"/>
<rect x="395.40" y="177.77" width="6.10" height="53.63" fill="#324f88"/>
<line x1="398.45" y1="177.77" x2="398.45" y2="175.32" stroke="#1a1a1a" stroke-width="0.85"/>
<line x1="396.65" y1="175.32" x2="400.25" y2="175.32" stroke="#1a1a1a" stroke-width="1.0"/>
<text x="332.80" y="243.00" font-size="6.3" text-anchor="middle" >Basal</text>
<text x="348.20" y="243.00" font-size="6.3" text-anchor="middle" >50</text>
<text x="363.60" y="243.00" font-size="6.3" text-anchor="middle" >87.5</text>
<text x="379.10" y="243.00" font-size="6.3" text-anchor="middle" >125</text>
<text x="394.50" y="243.00" font-size="6.3" text-anchor="middle" >300</text>
<line x1="347.90" y1="247.30" x2="395.10" y2="247.30" stroke="#111" stroke-width="1.05"/>
<text x="371.30" y="255.30" font-size="6.5" text-anchor="middle" textLength="39.3" lengthAdjust="spacingAndGlyphs" >PAR4-AP (µM)</text>
<rect x="327.40" y="159.40" width="5.20" height="3.50" fill="#a5002c"/>
<rect x="327.40" y="168.20" width="5.20" height="3.50" fill="#324f88"/>
<text x="335.40" y="162.85" font-size="5.6" text-anchor="start" >WT</text>
<text x="335.40" y="171.65" font-size="5.6" text-anchor="start" >KO</text>
<text x="302.60" y="224.00" font-size="8" text-anchor="start" textLength="58.4" lengthAdjust="spacingAndGlyphs" fill="#000" transform="rotate(-90 302.60 224.00)" stroke="#000" stroke-width="0.15">CD62P exposure (MFI)</text>
<line x1="452.10" y1="109.95" x2="452.10" y2="33.60" stroke="#1a1a1a" stroke-width="1.1"/>
<line x1="451.55" y1="109.40" x2="513.50" y2="109.40" stroke="#1a1a1a" stroke-width="1.1"/>
<line x1="448.90" y1="109.40" x2="452.10" y2="109.40" stroke="#1a1a1a" stroke-width="0.9"/>
<text x="446.00" y="111.65" font-size="6.3" text-anchor="end" >0</text>
<line x1="448.90" y1="97.20" x2="452.10" y2="97.20" stroke="#1a1a1a" stroke-width="0.9"/>
<text x="446.00" y="99.45" font-size="6.3" text-anchor="end" >2000</text>
<line x1="448.90" y1="85.00" x2="452.10" y2="85.00" stroke="#1a1a1a" stroke-width="0.9"/>
<text x="446.00" y="87.25" font-size="6.3" text-anchor="end" >4000</text>
<line x1="448.90" y1="72.80" x2="452.10" y2="72.80" stroke="#1a1a1a" stroke-width="0.9"/>
<text x="446.00" y="75.05" font-size="6.3" text-anchor="end" >6000</text>
<line x1="448.90" y1="60.60" x2="452.10" y2="60.60" stroke="#1a1a1a" stroke-width="0.9"/>
<text x="446.00" y="62.85" font-size="6.3" text-anchor="end" >8000</text>
<line x1="448.90" y1="48.40" x2="452.10" y2="48.40" stroke="#1a1a1a" stroke-width="0.9"/>
<text x="446.00" y="50.65" font-size="6.3" text-anchor="end" >10000</text>
<line x1="448.90" y1="36.20" x2="452.10" y2="36.20" stroke="#1a1a1a" stroke-width="0.9"/>
<text x="446.00" y="38.45" font-size="6.3" text-anchor="end" >12000</text>
<line x1="462.00" y1="109.40" x2="462.00" y2="111.60" stroke="#1a1a1a" stroke-width="0.9"/>
<rect x="453.90" y="69.14" width="7.40" height="40.26" fill="#a5002c"/>
<line x1="457.60" y1="69.14" x2="457.60" y2="64.50" stroke="#1a1a1a" stroke-width="0.85"/>
<line x1="455.80" y1="64.50" x2="459.40" y2="64.50" stroke="#1a1a1a" stroke-width="1.0"/>
<rect x="463.00" y="69.14" width="7.40" height="40.26" fill="#324f88"/>
<line x1="466.70" y1="69.14" x2="466.70" y2="65.24" stroke="#1a1a1a" stroke-width="0.85"/>
<line x1="464.90" y1="65.24" x2="468.50" y2="65.24" stroke="#1a1a1a" stroke-width="1.0"/>
<line x1="481.90" y1="109.40" x2="481.90" y2="111.60" stroke="#1a1a1a" stroke-width="0.9"/>
<rect x="473.80" y="57.00" width="7.40" height="52.40" fill="#a5002c"/>
<line x1="477.50" y1="57.00" x2="477.50" y2="54.50" stroke="#1a1a1a" stroke-width="0.85"/>
<line x1="475.70" y1="54.50" x2="479.30" y2="54.50" stroke="#1a1a1a" stroke-width="1.0"/>
<rect x="482.90" y="47.36" width="7.40" height="62.04" fill="#324f88"/>
<line x1="486.60" y1="47.36" x2="486.60" y2="44.62" stroke="#1a1a1a" stroke-width="0.85"/>
<line x1="484.80" y1="44.62" x2="488.40" y2="44.62" stroke="#1a1a1a" stroke-width="1.0"/>
<line x1="501.70" y1="109.40" x2="501.70" y2="111.60" stroke="#1a1a1a" stroke-width="0.9"/>
<rect x="493.60" y="57.37" width="7.40" height="52.03" fill="#a5002c"/>
<line x1="497.30" y1="57.37" x2="497.30" y2="55.11" stroke="#1a1a1a" stroke-width="0.85"/>
<line x1="495.50" y1="55.11" x2="499.10" y2="55.11" stroke="#1a1a1a" stroke-width="1.0"/>
<rect x="502.70" y="47.06" width="7.40" height="62.34" fill="#324f88"/>
<line x1="506.40" y1="47.06" x2="506.40" y2="44.86" stroke="#1a1a1a" stroke-width="0.85"/>
<line x1="504.60" y1="44.86" x2="508.20" y2="44.86" stroke="#1a1a1a" stroke-width="1.0"/>
<line x1="476.90" y1="42.40" x2="486.80" y2="42.40" stroke="#1a1a1a" stroke-width="0.95"/>
<circle cx="479.00" cy="39.70" r="0.72" fill="#1a1a1a"/>
<circle cx="480.90" cy="39.70" r="0.72" fill="#1a1a1a"/>
<circle cx="482.80" cy="39.70" r="0.72" fill="#1a1a1a"/>
<circle cx="484.70" cy="39.70" r="0.72" fill="#1a1a1a"/>
<line x1="496.20" y1="42.40" x2="506.40" y2="42.40" stroke="#1a1a1a" stroke-width="0.95"/>
<circle cx="498.45" cy="39.70" r="0.72" fill="#1a1a1a"/>
<circle cx="500.35" cy="39.70" r="0.72" fill="#1a1a1a"/>
<circle cx="502.25" cy="39.70" r="0.72" fill="#1a1a1a"/>
<circle cx="504.15" cy="39.70" r="0.72" fill="#1a1a1a"/>
<rect x="455.80" y="34.20" width="5.20" height="3.50" fill="#a5002c"/>
<rect x="455.80" y="42.70" width="5.20" height="3.50" fill="#324f88"/>
<text x="464.20" y="37.65" font-size="5.6" text-anchor="start" >WT</text>
<text x="464.20" y="46.15" font-size="5.6" text-anchor="start" >KO</text>
<text x="422.80" y="97.00" font-size="8" text-anchor="start" textLength="50.9" lengthAdjust="spacingAndGlyphs" fill="#000" transform="rotate(-90 422.80 97.00)" stroke="#000" stroke-width="0.15">Surface CD41 (MFI)</text>
<text x="464.60" y="117.90" font-size="6.3" text-anchor="end" transform="rotate(-45 464.60 117.90)" >Basal</text>
<text x="484.50" y="117.90" font-size="6.3" text-anchor="end" transform="rotate(-45 484.50 117.90)" >PAR4-AP</text>
<text x="504.30" y="117.90" font-size="6.3" text-anchor="end" transform="rotate(-45 504.30 117.90)" >Thrombin</text>
</svg>
</body></html>
